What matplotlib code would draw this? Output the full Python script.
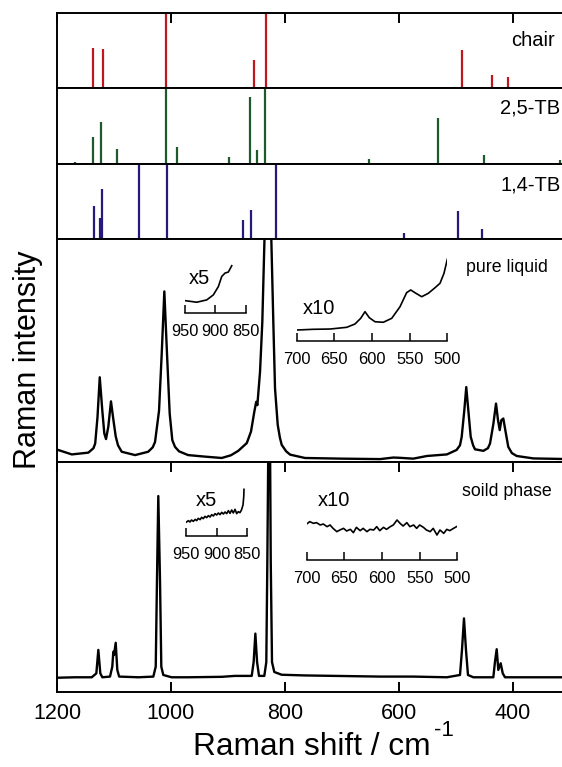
import matplotlib
matplotlib.use("Agg")
import matplotlib.pyplot as plt

plt.rcParams['font.family'] = ['Liberation Sans', 'DejaVu Sans']

# ---- calculated lines (relative Raman activity) ----
chair_pos = [1136, 1120, 1008, 854, 834, 489, 436, 409]
chair_h = [0.54, 0.52, 1.0, 0.38, 1.0, 0.51, 0.18, 0.15]

tb25_pos = [1168, 1137, 1122, 1095, 1009, 990, 898, 861, 850, 835, 653, 531, 451, 317]
tb25_h = [0.03, 0.35, 0.55, 0.20, 1.0, 0.22, 0.09, 0.88, 0.19, 1.0, 0.06, 0.60, 0.12, 0.05]

tb14_pos = [1135, 1125, 1120.5, 1091, 1057, 1007.5, 873, 859, 816, 591, 497, 455]
tb14_h = [0.44, 0.28, 0.67, 0.02, 1.0, 1.0, 0.26, 0.39, 1.0, 0.08, 0.38, 0.13]

# ---- measured spectra (traced) ----
liquid_shift = [1198, 1174, 1145, 1136, 1133, 1129, 1125, 1120.5, 1117,
                1114, 1110, 1105.3, 1101, 1097, 1093, 1086.5, 1063, 1040,
                1032, 1028, 1021, 1016.3, 1011.7, 1007, 1002.3, 997.7, 993, 986,
                970, 940, 911, 895, 882, 867, 859.6, 853.8,
                850.5, 848.5, 843.8, 839.8, 836, 830, 824, 820.5,
                817.5, 812.8, 809, 805.8, 798, 791, 765, 700, 633, 610,
                600, 575, 551, 516, 499, 493, 490, 485.4, 482,
                478.4, 474.2, 470, 466.7, 452, 444, 440.3, 434.5, 429.8, 426.3,
                423.3, 420.5, 417, 413.5, 408.3, 402, 393.5, 364, 300]
liquid_int = [0.054, 0.034, 0.042, 0.062, 0.083, 0.20, 0.38, 0.23, 0.128,
              0.103, 0.158, 0.272, 0.1875, 0.115, 0.075, 0.046, 0.031, 0.046,
              0.066, 0.09, 0.23, 0.485, 0.765, 0.485, 0.217, 0.098, 0.068, 0.048,
              0.031, 0.024, 0.018, 0.03, 0.05, 0.085, 0.137, 0.226,
              0.27, 0.255, 0.405, 0.628, 1.0, 1.6, 1.0, 0.628,
              0.33, 0.167, 0.11, 0.077, 0.048, 0.033, 0.018, 0.015, 0.013, 0.02,
              0.019, 0.015, 0.027, 0.034, 0.054, 0.075, 0.113, 0.232, 0.336,
              0.232, 0.113, 0.075, 0.057, 0.05, 0.062, 0.083, 0.17, 0.262, 0.1875,
              0.143, 0.1875, 0.195, 0.143, 0.068, 0.040, 0.027, 0.016, 0.013]

solid_shift = [1200, 1168, 1139, 1131, 1127.5, 1124, 1120.5, 1107,
               1103, 1101.2, 1100, 1097, 1094.2, 1091, 1057, 1031,
               1026.8, 1024.6, 1022.3, 1019.3, 1017, 1013.5, 999, 970,
               911, 888, 858.4, 855, 852, 849, 845.6, 836.3,
               832.8, 831, 827.5, 825, 822.8, 818.8, 805.8, 765,
               633, 575, 516, 493, 489.5, 486, 482.5, 479,
               469.6, 434.5, 431.6, 428.6, 425.8, 421.6, 418, 414,
               370, 300]
solid_int = [0.062, 0.064, 0.064, 0.081, 0.183, 0.081, 0.064, 0.067,
             0.11, 0.175, 0.161, 0.214, 0.096, 0.067, 0.064, 0.067,
             0.11, 0.487, 0.852, 0.487, 0.11, 0.074, 0.064, 0.064,
             0.066, 0.07, 0.07, 0.13, 0.254, 0.13, 0.07, 0.07,
             0.13, 0.565, 1.6, 0.565, 0.13, 0.087, 0.075, 0.072,
             0.067, 0.067, 0.064, 0.074, 0.183, 0.32, 0.183, 0.074,
             0.064, 0.064, 0.132, 0.186, 0.096, 0.125, 0.081, 0.064,
             0.064, 0.064]

# insets (magnified regions)
liq5_shift = [950, 930.7, 914.2, 903.3, 895, 889.5, 884, 878.6, 873]
liq5_int = [0.252, 0.22, 0.266, 0.366, 0.532, 0.732, 0.8, 0.82, 0.946]

liq10_shift = [700, 678, 655.8, 633.6, 622.6, 615, 609.3, 603.6, 596, 585, 573.8,
               562.8, 554, 548.6, 543, 534, 525.2, 516.3, 509.7, 504.4, 500]
liq10_int = [0.122, 0.13, 0.133, 0.152, 0.189, 0.252, 0.326, 0.259, 0.214, 0.208, 0.252,
             0.381, 0.537, 0.567, 0.537, 0.492, 0.53, 0.592, 0.641, 0.752, 0.908]

sol5_shift = [950, 946, 943.5, 941, 938, 935, 932.6, 930, 927, 924.5, 921.8, 919,
              916.3, 913.5, 910.8, 908, 905.4, 902.7, 900, 897.2, 894.5, 891.7, 889,
              886.3, 883.6, 880.9, 878.2, 875.5, 872.8, 870, 867.3, 864.7, 862,
              859.5, 857, 855.8, 855.4]
sol5_int = [0.267, 0.301, 0.274, 0.314, 0.287, 0.327, 0.301, 0.347, 0.321, 0.367, 0.341, 0.387,
            0.361, 0.401, 0.374, 0.421, 0.394, 0.441, 0.414, 0.454, 0.421, 0.467, 0.434,
            0.474, 0.441, 0.501, 0.447, 0.514, 0.455, 0.527, 0.441, 0.481, 0.461,
            0.514, 0.614, 0.781, 0.927]

sol10_shift = [700, 696, 691, 687, 682, 678, 673, 669, 665, 660, 656, 651, 647, 642, 638, 634,
               629, 625, 620, 616, 611, 607, 603, 598, 594, 589, 585, 580, 576, 572, 567,
               563, 558, 554, 550, 545, 541, 536, 532, 527, 523, 518, 514, 510, 505, 501]
sol10_int = [0.72, 0.767, 0.733, 0.747, 0.7, 0.72, 0.667, 0.7, 0.633, 0.567, 0.6, 0.633,
             0.58, 0.613, 0.547, 0.653, 0.587, 0.633, 0.567, 0.613, 0.6, 0.667, 0.587,
             0.653, 0.613, 0.667, 0.7, 0.8, 0.733, 0.68, 0.747, 0.667, 0.7, 0.633, 0.7,
             0.653, 0.6, 0.567, 0.633, 0.5, 0.6, 0.533, 0.613, 0.587, 0.633, 0.667]

main_ticks = [1200, 1000, 800, 600, 400]
ticks_5 = [950, 900, 850]
ticks_10 = [700, 650, 600, 550, 500]

W, H = 562, 767
fig = plt.figure(figsize=(W / 100, H / 100), dpi=100)


def box(left, top, right, bottom):
    # pixel box -> figure fraction
    return [left / W, 1 - bottom / H, (right - left) / W, (bottom - top) / H]


def panel(top, bottom):
    ax = fig.add_axes(box(57, top, 570, bottom))
    ax.set_xlim(1200, 300)
    ax.set_ylim(0, 1)
    ax.set_yticks([])
    ax.set_xticks(main_ticks)
    ax.tick_params(axis='x', direction='in', length=7, width=1.4,
                   bottom=False, top=False, labelbottom=False)
    for s in ax.spines.values():
        s.set_linewidth(1.4)
    return ax


ax1 = panel(13, 88)
ax2 = panel(88, 164)
ax3 = panel(164, 239)
ax4 = panel(239, 462)
ax5 = panel(462, 692)

ax1.tick_params(axis='x', top=True)
ax5.tick_params(axis='x', top=True, bottom=True, labelbottom=True, labelsize=15.5, pad=8)

ax1.vlines(chair_pos, 0, chair_h, color='#c0161f', lw=1.6)
ax2.vlines(tb25_pos, 0, tb25_h, color='#1f5a2c', lw=1.6)
ax3.vlines(tb14_pos, 0, tb14_h, color='#25197a', lw=1.6)

ax4.plot(liquid_shift, liquid_int, color='black', lw=1.7)
ax5.plot(solid_shift, solid_int, color='black', lw=1.7)

# axis titles
fig.text(193 / W, 1 - 747 / H, 'Raman shift / cm', fontsize=22.8, ha='left', va='center')
fig.text(434 / W, 1 - 731 / H, '-1', fontsize=16, ha='left', va='center')
fig.text(28 / W, 1 - 360 / H, 'Raman intensity', rotation=90, fontsize=22,
         ha='center', va='center')


def inset(left, top, right, bottom, xlim, ticks, xs, ys):
    ia = fig.add_axes(box(left, top, right, bottom))
    ia.patch.set_alpha(0)
    ia.set_xlim(*xlim)
    ia.set_ylim(0, 1)
    for side in ['top', 'left', 'right']:
        ia.spines[side].set_visible(False)
    ia.spines['bottom'].set_linewidth(1.1)
    ia.set_yticks([])
    ia.set_xticks(ticks)
    ia.tick_params(axis='x', direction='in', length=6, width=1.1, labelsize=11.8, pad=8)
    ia.plot(xs, ys, color='black', lw=1.2)
    return ia


inset(185, 263, 245.7, 313.3, (950, 850), ticks_5, liq5_shift, liq5_int)
inset(296.7, 251, 447.3, 341, (700, 500), ticks_10, liq10_shift, liq10_int)
inset(186, 485.7, 247.3, 535.7, (950, 850), ticks_5, sol5_shift, sol5_int)
inset(306.7, 510, 457.3, 560, (700, 500), ticks_10, sol10_shift, sol10_int)


def label(x, y, s, size):
    fig.text(x / W, 1 - y / H, s, fontsize=size, ha='left', va='center')


label(511, 40, 'chair', 14.5)
label(500, 108, '2,5-TB', 14.5)
label(500, 185, '1,4-TB', 14.5)
label(466, 268, 'pure liquid', 12.8)
label(462, 492, 'soild phase', 12.8)
fig.text(199.5 / W, 1 - 279 / H, 'x5', fontsize=14.5, ha='center', va='center')
fig.text(318.5 / W, 1 - 309 / H, 'x10', fontsize=14.5, ha='center', va='center')
fig.text(206 / W, 1 - 501 / H, 'x5', fontsize=14.5, ha='center', va='center')
fig.text(334 / W, 1 - 501 / H, 'x10', fontsize=14.5, ha='center', va='center')

fig.savefig('out.png', dpi=100)
